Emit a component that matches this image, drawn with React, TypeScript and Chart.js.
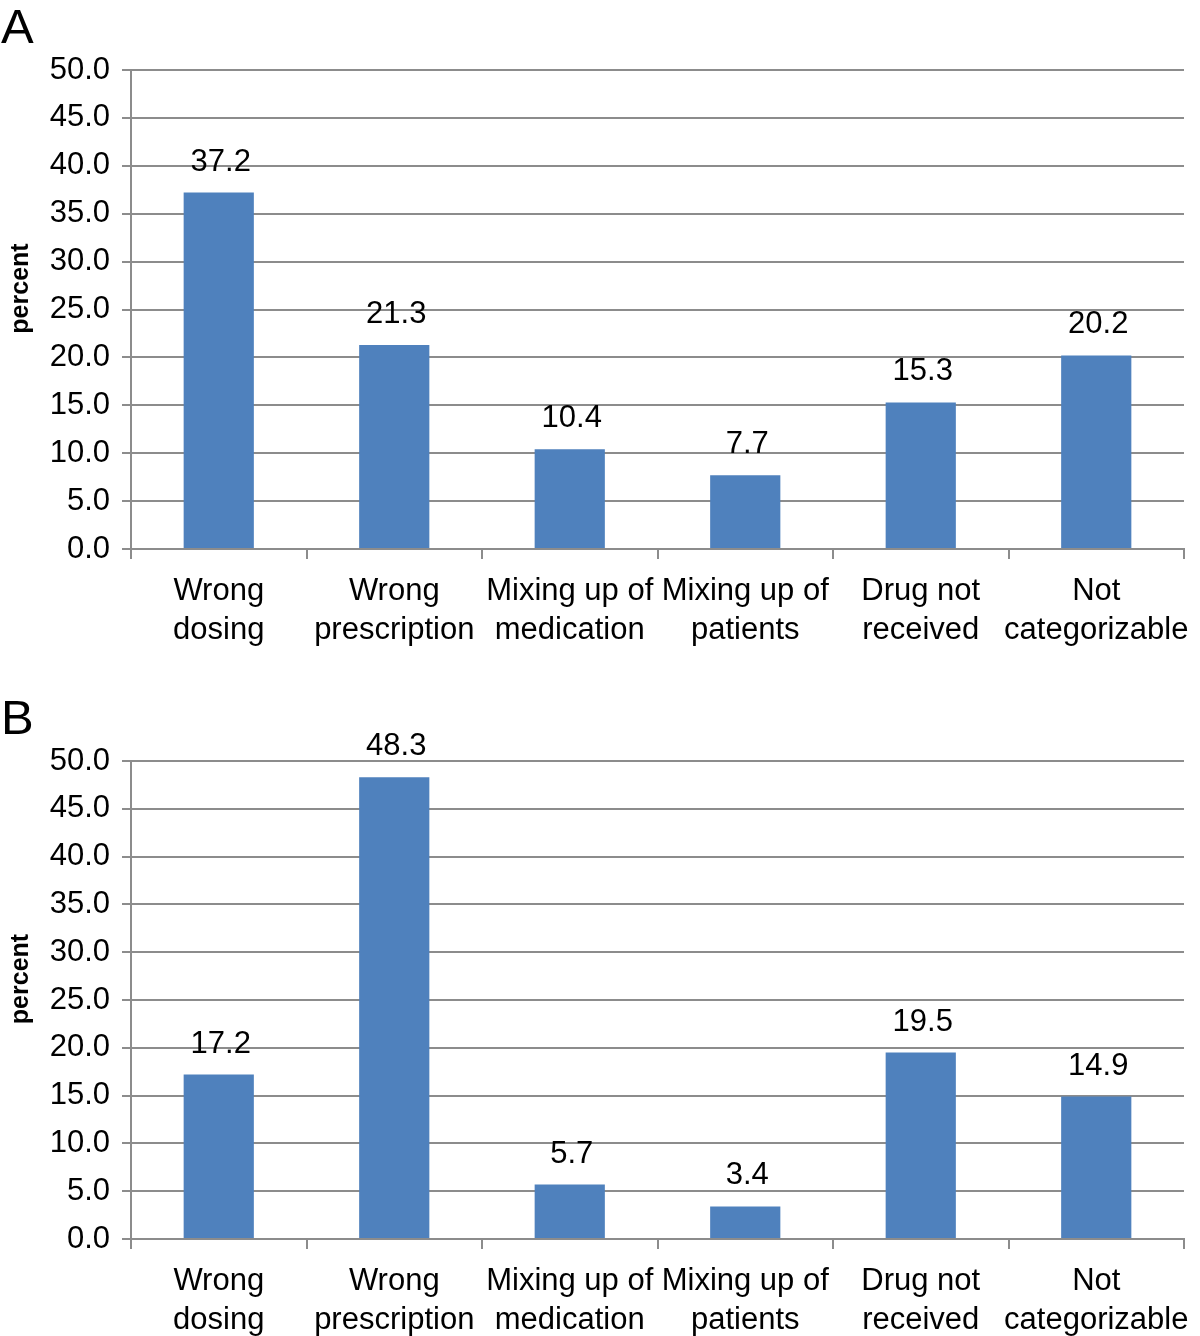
import React, { useEffect, useRef } from 'react';
import { Chart, registerables } from 'chart.js';

Chart.register(...registerables);

const categories: string[][] = [
  ['Wrong', 'dosing'],
  ['Wrong', 'prescription'],
  ['Mixing up of', 'medication'],
  ['Mixing up of', 'patients'],
  ['Drug not', 'received'],
  ['Not', 'categorizable'],
];
const valuesA = [37.2, 21.3, 10.4, 7.7, 15.3, 20.2];
const valuesB = [17.2, 48.3, 5.7, 3.4, 19.5, 14.9];
const yMin = 0;
const yMax = 50;
const yStep = 5;
const yTitle = 'percent';

const FONT = "'Liberation Sans', Arial, Helvetica, sans-serif";
const BAR = '#4F81BD';
const GRID = '#8C8C8C';

type PanelProps = {
  letter: string;
  values: number[];
  top: number;
  height: number;
  padTop: number;
  xHeight: number;
  letterBaseline: number;
};

function Panel({ letter, values, top, height, padTop, xHeight, letterBaseline }: PanelProps) {
  const ref = useRef<HTMLCanvasElement | null>(null);
  useEffect(() => {
    if (!ref.current) return;
    const extras = {
      id: 'extras',
      afterDatasetsDraw(chart: any) {
        const ctx = chart.ctx;
        const area = chart.chartArea;
        ctx.save();
        ctx.fillStyle = '#000';
        // value labels
        ctx.font = `31px ${FONT}`;
        ctx.textAlign = 'center';
        ctx.textBaseline = 'alphabetic';
        const meta = chart.getDatasetMeta(0);
        meta.data.forEach((el: any, i: number) => {
          const v = chart.data.datasets[0].data[i] as number;
          ctx.fillText(v.toFixed(1), el.x + 2, el.y - 22);
        });
        // y title
        ctx.save();
        ctx.font = `bold 25px ${FONT}`;
        ctx.translate(28, (area.top + area.bottom) / 2 - 21);
        ctx.rotate(-Math.PI / 2);
        ctx.textAlign = 'center';
        ctx.textBaseline = 'alphabetic';
        ctx.fillText(yTitle, 0, 0);
        ctx.restore();
        // panel letter
        ctx.font = `49px ${FONT}`;
        ctx.textAlign = 'left';
        ctx.textBaseline = 'alphabetic';
        ctx.fillText(letter, 1, letterBaseline);
        ctx.restore();
      },
    };
    const chart = new Chart(ref.current, {
      type: 'bar',
      data: {
        labels: categories,
        datasets: [
          {
            data: values,
            backgroundColor: BAR,
            borderWidth: 0,
            barPercentage: 0.4,
            categoryPercentage: 1,
          },
        ],
      },
      options: {
        responsive: false,
        animation: false,
        devicePixelRatio: 1,
        layout: { padding: { top: padTop, right: 16, bottom: 0, left: 0 } },
        plugins: { legend: { display: false }, tooltip: { enabled: false }, title: { display: false } },
        scales: {
          x: {
            offset: true,
            grid: {
              offset: true,
              drawOnChartArea: false,
              drawTicks: true,
              tickLength: 10,
              color: GRID,
              lineWidth: 2,
            },
            border: { color: GRID, width: 2 },
            ticks: {
              autoSkip: false,
              maxRotation: 0,
              minRotation: 0,
              padding: 13,
              color: '#000',
              font: { family: FONT, size: 31, lineHeight: 1.25 },
            },
            afterFit(scale: any) {
              scale.height = xHeight;
              scale.paddingLeft = 0;
              scale.paddingRight = 0;
            },
          },
          y: {
            min: yMin,
            max: yMax,
            grid: { color: GRID, lineWidth: 2, tickLength: 9, drawTicks: true },
            border: { color: GRID, width: 2 },
            ticks: {
              stepSize: yStep,
              padding: 12,
              color: '#000',
              font: { family: FONT, size: 31 },
              callback: (v: any) => Number(v).toFixed(1),
            },
            afterFit(scale: any) {
              scale.width = 131;
              scale.paddingTop = 0;
              scale.paddingBottom = 0;
            },
          },
        },
      },
      plugins: [extras],
    });
    return () => chart.destroy();
  }, []);
  return (
    <div style={{ position: 'absolute', left: 0, top, width: 1200, height }}>
      <canvas ref={ref} width={1200} height={height} style={{ display: 'block', width: 1200, height }} />
    </div>
  );
}

export default function App() {
  return (
    <div style={{ position: 'absolute', left: 0, top: 0, width: 1200, height: 1336, overflow: 'hidden', background: '#fff' }}>
      <Panel letter="A" values={valuesA} top={0} height={668} padTop={70} xHeight={119} letterBaseline={43} />
      <Panel letter="B" values={valuesB} top={668} height={668} padTop={93} xHeight={97} letterBaseline={66} />
    </div>
  );
}
